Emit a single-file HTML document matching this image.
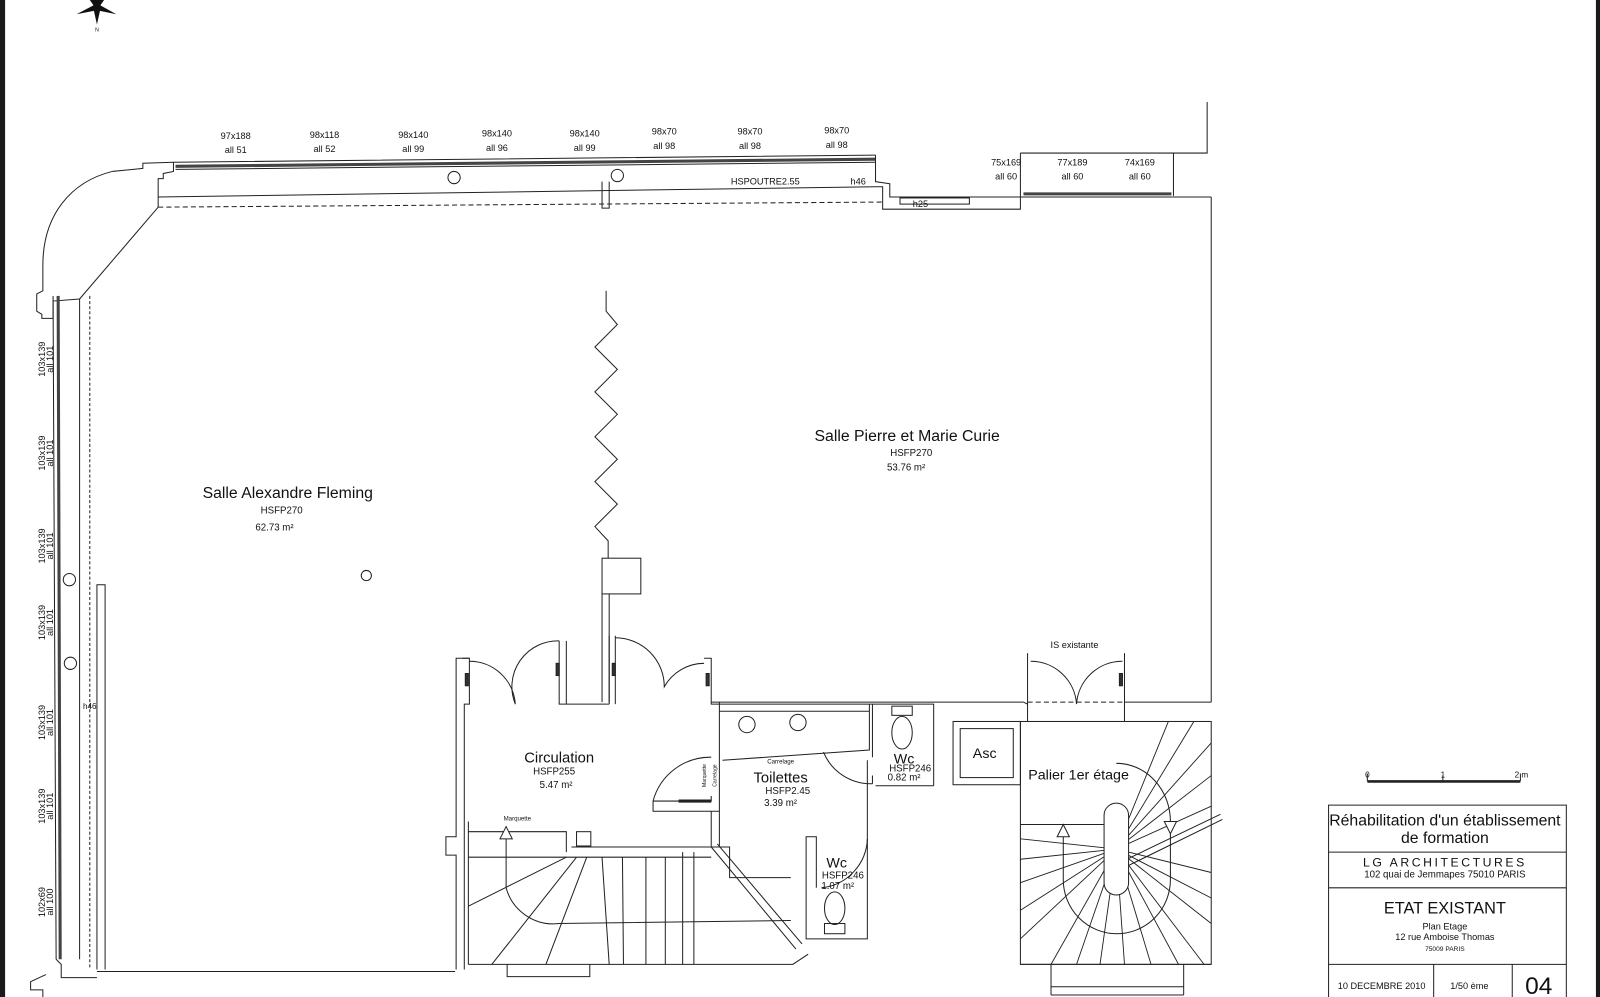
<!DOCTYPE html>
<html><head><meta charset="utf-8"><style>
html,body{margin:0;padding:0;background:#fff;}
svg{display:block;}
text{font-family:"Liberation Sans",Arial,sans-serif;fill:#111;}
</style></head><body>
<svg width="1600" height="997" viewBox="0 0 1568 977" preserveAspectRatio="none" xmlns="http://www.w3.org/2000/svg">
<rect x="0" y="0" width="1568" height="977" fill="#fff"/>
<rect x="0" y="0" width="5" height="977" fill="#1a1a1a"/>
<rect x="1564" y="0" width="4" height="977" fill="#1a1a1a"/>
<!-- compass -->
<g fill="#111"><polygon points="95,24 91,6 95,0 99,6"/><polygon points="75,14 92,5 95,10"/><polygon points="114,14 98,5 95,10"/><polygon points="88,0 95,10 102,0"/></g>
<text x="95" y="31" font-size="5" text-anchor="middle">N</text>
<g fill="none" stroke="#222" stroke-width="1">
<!-- top wall -->
<polyline points="110,168 140,165 140,160 170,159 858,152"/>
<line x1="172" y1="163" x2="858" y2="156" stroke-width="3" stroke="#444"/>
<line x1="172" y1="166" x2="858" y2="159"/>
<path d="M170,159 V168 L160,170 V175 H155 V203"/>
<line x1="155" y1="193" x2="858" y2="183"/>
<line x1="155" y1="203" x2="865" y2="198" stroke-dasharray="5,3"/>
<line x1="155" y1="203" x2="78" y2="293"/>
<path d="M110,168 C70,178 42,210 42,260 V285 L36,288 V305 L41,308 V312 L52,312 V295 L78,293"/>
<circle cx="445" cy="174" r="6"/><circle cx="605" cy="172" r="6"/>
<path d="M590,178 V204 H597 V178"/>
<!-- top right -->
<path d="M858,152 V178 L872,180 V193 H1000 M858,183 H865 V205 H1000 V193"/>
<path d="M1000,150 H1150 V192 M1000,150 V193 H1187 M1150,150 H1183 V100"/>
<line x1="1003" y1="190" x2="1148" y2="190" stroke-width="3" stroke="#444"/>
<rect x="882" y="194" width="68" height="6"/>
<line x1="1187" y1="193" x2="1187" y2="688"/>
<!-- left wall -->
<line x1="57" y1="290" x2="59" y2="940" stroke-width="3" stroke="#444"/>
<line x1="52" y1="290" x2="55" y2="940"/>
<line x1="78" y1="293" x2="78" y2="940"/>
<line x1="88" y1="290" x2="88" y2="950" stroke-dasharray="3,2"/>
<path d="M95,950 V573 H103 V950"/>
<path d="M55,940 L60,945 V958 H95 M45,955 L30,962 V970 H42 V977"/>
<line x1="95" y1="952" x2="446" y2="952"/>
<circle cx="68" cy="568" r="6"/><circle cx="69" cy="650" r="6"/>
<circle cx="359" cy="564" r="5"/>
<!-- zigzag partition -->
<polyline points="594,285 594,305 605,318 583,340 605,362 583,384 605,406 583,428 605,450 583,472 605,494 583,516 596,530 596,547"/>
<rect x="590" y="547" width="38" height="35"/>
<path d="M590,582 V688 M597,582 V688"/>
<!-- circulation -->
<path d="M447,950 V838 H437 V820 H447 V645 H460 V690 H455 V950"/>
<path d="M453,645 H460 M548,628 V690 H597 M555,628 V690 M597,623 V690 M603,623 V690 M690,645 H697 V690 M697,645 V690 H915 V770"/>
<path d="M460,648 A45,45 0 0 1 505,690 A45,45 0 0 1 548,628"/>
<path d="M603,625 A48,48 0 0 1 651,673 A45,45 0 0 1 690,650"/>
<rect x="456" y="660" width="3" height="12" fill="#333"/><rect x="545" y="650" width="3" height="12" fill="#333"/><rect x="600" y="650" width="3" height="12" fill="#333"/><rect x="692" y="660" width="3" height="12" fill="#333"/>
<!-- toilettes -->
<path d="M705,688 V830 M705,697 H852 V735 L708,745 M852,697 V690"/>
<circle cx="732" cy="710" r="8"/><circle cx="782" cy="708" r="8"/>
<path d="M855,690 V742 M850,745 V920 H790 V820 H800 V870"/>
<path d="M807,737 A50,50 0 0 0 855,768 M855,768 V760 M915,770 H858"/>
<ellipse cx="884" cy="718" rx="10" ry="16"/><rect x="874" y="692" width="20" height="9"/>
<ellipse cx="818" cy="890" rx="10" ry="16"/><rect x="808" y="905" width="20" height="10"/>
<path d="M850,822 A50,50 0 0 1 805,870"/>
<path d="M640,785 A58,58 0 0 1 697,742 M640,785 H697 V780 M640,785 V795 H705"/>
<line x1="665" y1="785" x2="697" y2="785" stroke-width="3"/>
<path d="M697,795 V830 H715 V860 H775"/>
<!-- left stairs -->
<path d="M459,945 V805 M459,815 H555 V835 M459,840 H697 M560,830 H697 M459,945 H777 L792,935"/>
<rect x="565" y="815" width="14" height="14"/>
<path d="M496,820 V870 A48,48 0 0 0 548,905 L775,902"/>
<polygon points="490,822 502,822 496,810" fill="#fff"/>
<path d="M555,840 L459,888 M565,840 L482,945 M575,840 L535,945 M590,840 L597,945 M610,840 L611,945 M633,840 L633,945 M652,840 L652,945 M669,835 V945 M680,835 V945" />
<path d="M697,830 L780,930 M703,827 L786,925"/>
<path d="M497,945 V957 H578 V945"/>
<!-- right: IS existante, asc, stair -->
<path d="M697,688 H1003 L1007,690 M1102,688 H1187 M1007,640 V707 M1102,640 V707"/>
<path d="M1007,688 H1102 M1007,707 H1102" stroke-dasharray="5,3"/>
<path d="M1010,648 A45,45 0 0 1 1055,690 A45,45 0 0 1 1100,648"/>
<rect x="1097" y="660" width="3" height="12" fill="#333"/>
<rect x="934" y="707" width="66" height="62"/><rect x="941" y="714" width="52" height="48"/>
<rect x="1000" y="707" width="187" height="238"/>
<line x1="1000" y1="808" x2="1082" y2="808"/>
<g stroke-width="0.9">
<path d="M1094,832 L1145,707 M1094,832 L1170,707 M1094,832 L1187,728 M1094,832 L1187,760 M1094,832 L1187,790 M1094,832 L1187,855 M1094,832 L1187,880 M1094,832 L1187,905 M1094,832 L1180,945 M1094,832 L1155,945 M1094,832 L1128,945 M1094,832 L1102,945 M1094,832 L1078,945 M1094,832 L1055,945 M1094,832 L1030,945 M1094,832 L1000,920 M1094,832 L1000,892 M1094,832 L1000,865 M1094,832 L1000,842 M1094,832 L1000,822"/>
</g>
<path d="M1098,852 L1198,803 M1096,846 L1196,798"/>
<rect x="1082" y="787" width="24" height="90" rx="12" fill="#fff"/>
<path d="M1042,815 V862 A52.5,53 0 0 0 1147,862 V805 A53,57 0 0 0 1094,748"/>
<polygon points="1036,820 1048,820 1042,808" fill="#fff"/>
<polygon points="1141,805 1153,805 1147,817" fill="#fff"/>
<path d="M1000,945 H1187 M1030,967 H1160 M1030,975 H1160 M1030,945 V975 M1160,945 V975"/>
<!-- scale bar and title block -->
<path d="M1340,758 V765 H1490 V758 M1414,760 V765"/>
<line x1="1340" y1="766" x2="1490" y2="766" stroke-width="2"/>
<path d="M1302,977 V789 H1535 V977 M1302,835 H1535 M1302,870 H1535 M1302,945 H1535 M1405,945 V977 M1482,945 V977"/>
</g>
<!-- labels -->
<g font-size="9" text-anchor="middle">
<text x="231" y="136">97x188</text><text x="231" y="150">all 51</text>
<text x="318" y="135">98x118</text><text x="318" y="149">all 52</text>
<text x="405" y="135">98x140</text><text x="405" y="149">all 99</text>
<text x="487" y="134">98x140</text><text x="487" y="148">all 96</text>
<text x="573" y="134">98x140</text><text x="573" y="148">all 99</text>
<text x="651" y="132">98x70</text><text x="651" y="146">all 98</text>
<text x="735" y="132">98x70</text><text x="735" y="146">all 98</text>
<text x="820" y="131">98x70</text><text x="820" y="145">all 98</text>
<text x="986" y="162">75x169</text><text x="986" y="176">all 60</text>
<text x="1051" y="162">77x189</text><text x="1051" y="176">all 60</text>
<text x="1117" y="162">74x169</text><text x="1117" y="176">all 60</text>
<text x="750" y="181">HSPOUTRE2.55</text><text x="841" y="181">h46</text><text x="902" y="203">h25</text>
</g>
<g font-size="9" text-anchor="middle">
<text transform="translate(44,352) rotate(-90)">103x139</text><text transform="translate(52,352) rotate(-90)">all 101</text>
<text transform="translate(44,444) rotate(-90)">103x139</text><text transform="translate(52,444) rotate(-90)">all 101</text>
<text transform="translate(44,535) rotate(-90)">103x139</text><text transform="translate(52,535) rotate(-90)">all 101</text>
<text transform="translate(44,610) rotate(-90)">103x139</text><text transform="translate(52,610) rotate(-90)">all 101</text>
<text transform="translate(44,708) rotate(-90)">103x139</text><text transform="translate(52,708) rotate(-90)">all 101</text>
<text transform="translate(44,790) rotate(-90)">103x139</text><text transform="translate(52,790) rotate(-90)">all 101</text>
<text transform="translate(44,884) rotate(-90)">102x69</text><text transform="translate(52,884) rotate(-90)">all 100</text>
</g>
<text x="88" y="695" font-size="8" text-anchor="middle">h46</text>
<g text-anchor="middle">
<text x="282" y="488" font-size="15.5">Salle Alexandre Fleming</text>
<text x="276" y="503" font-size="9.5">HSFP270</text><text x="269" y="520" font-size="9.5">62.73 m²</text>
<text x="889" y="432" font-size="15.5">Salle Pierre et Marie Curie</text>
<text x="893" y="447" font-size="9.5">HSFP270</text><text x="888" y="461" font-size="9.5">53.76 m²</text>
<text x="548" y="747" font-size="14.5">Circulation</text>
<text x="543" y="759" font-size="9.5">HSFP255</text><text x="545" y="772" font-size="9.5">5.47 m²</text>
<text x="765" y="767" font-size="14.5">Toilettes</text>
<text x="772" y="778" font-size="9.5">HSFP2.45</text><text x="765" y="790" font-size="9.5">3.39 m²</text>
<text x="765" y="748" font-size="6">Carrelage</text>
<text x="507" y="804" font-size="6">Marquette</text>
<text x="965" y="743" font-size="14">Asc</text>
<text x="1057" y="764" font-size="14">Palier 1er étage</text>
<text x="1053" y="635" font-size="9">IS existante</text>
<text x="886" y="748" font-size="14">Wc</text>
<text x="892" y="756" font-size="9.5">HSFP246</text><text x="886" y="765" font-size="9.5">0.82 m²</text>
<text x="820" y="850" font-size="14">Wc</text>
<text x="826" y="861" font-size="9.5">HSFP246</text><text x="821" y="871" font-size="9.5">1.07 m²</text>
<text x="1340" y="762" font-size="8">0</text><text x="1414" y="762" font-size="8">1</text><text x="1491" y="762" font-size="8">2 m</text>
<text x="1416" y="809" font-size="15.5">Réhabilitation d'un établissement</text>
<text x="1416" y="826" font-size="15.5">de formation</text>
<text x="1416" y="849" font-size="12" letter-spacing="2.5">LG ARCHITECTURES</text>
<text x="1416" y="860" font-size="9.5">102 quai de Jemmapes  75010 PARIS</text>
<text x="1416" y="895" font-size="16">ETAT EXISTANT</text>
<text x="1416" y="911" font-size="9">Plan Etage</text>
<text x="1416" y="921" font-size="9">12 rue Amboise Thomas</text>
<text x="1416" y="932" font-size="6.5">75009 PARIS</text>
<text x="1354" y="969" font-size="9">10 DECEMBRE 2010</text>
<text x="1440" y="969" font-size="9">1/50 ème</text>
<text x="1508" y="974" font-size="24">04</text>
</g>
<g font-size="5" text-anchor="middle">
<text transform="translate(692,760) rotate(-90)">Marquette</text><text transform="translate(702,760) rotate(-90)">Carrelage</text>
</g>
</svg>
</body></html>
